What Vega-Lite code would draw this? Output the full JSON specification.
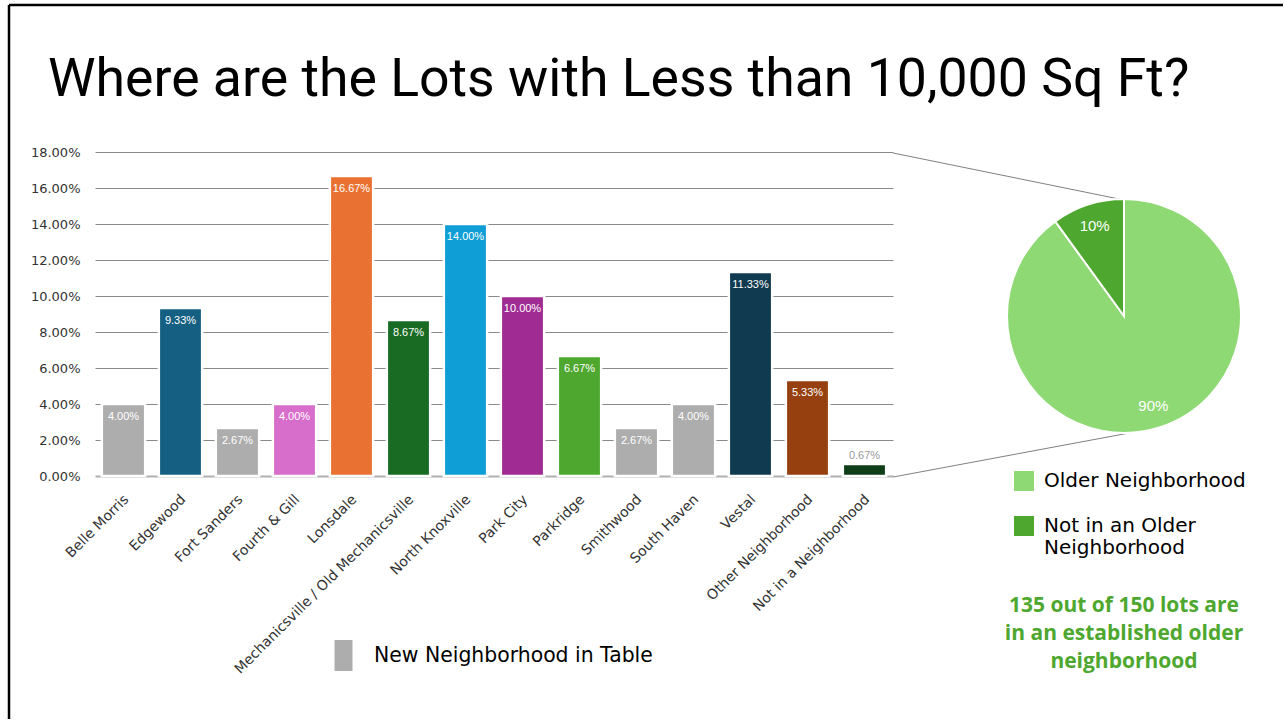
{
  "$schema": "https://vega.github.io/schema/vega-lite/v6.json",
  "background": "white",
  "padding": {"left": 9, "top": 5, "right": 0, "bottom": 0},
  "width": 1274,
  "height": 714,
  "title": {
    "text": "Where are the Lots with Less than 10,000 Sq Ft?",
    "anchor": "start",
    "frame": "group",
    "baseline": "alphabetic",
    "font": "Roboto",
    "fontSize": 53.6,
    "fontWeight": "normal",
    "color": "#000000",
    "dx": 39,
    "offset": -145
  },
  "resolve": {"scale": {"x": "independent", "y": "independent", "color": "independent"}, "legend": {"color": "independent"}},
  "layer": [
    {
      "data": {
        "values": [
          {"neighborhood": "Belle Morris", "share": 0.04, "group": "New Neighborhood in Table"},
          {"neighborhood": "Edgewood", "share": 0.0933, "group": "Edgewood"},
          {"neighborhood": "Fort Sanders", "share": 0.0267, "group": "New Neighborhood in Table"},
          {"neighborhood": "Fourth & Gill", "share": 0.04, "group": "Fourth & Gill"},
          {"neighborhood": "Lonsdale", "share": 0.1667, "group": "Lonsdale"},
          {"neighborhood": "Mechanicsville / Old Mechanicsville", "share": 0.0867, "group": "Mechanicsville / Old Mechanicsville"},
          {"neighborhood": "North Knoxville", "share": 0.14, "group": "North Knoxville"},
          {"neighborhood": "Park City", "share": 0.10, "group": "Park City"},
          {"neighborhood": "Parkridge", "share": 0.0667, "group": "Parkridge"},
          {"neighborhood": "Smithwood", "share": 0.0267, "group": "New Neighborhood in Table"},
          {"neighborhood": "South Haven", "share": 0.04, "group": "New Neighborhood in Table"},
          {"neighborhood": "Vestal", "share": 0.1133, "group": "Vestal"},
          {"neighborhood": "Other Neighborhood", "share": 0.0533, "group": "Other Neighborhood"},
          {"neighborhood": "Not in a Neighborhood", "share": 0.0067, "group": "Not in a Neighborhood"}
        ]
      },
      "encoding": {
        "x": {
          "field": "neighborhood",
          "type": "nominal",
          "sort": null,
          "scale": {"range": [86, 884], "paddingInner": 0.24, "paddingOuter": 0.12},
          "axis": {
            "title": null,
            "offset": -243,
            "labelAngle": -45,
            "labelAlign": "right",
            "labelBaseline": "middle",
            "labelFont": "DejaVu Sans",
            "labelFontSize": 14,
            "labelColor": "#333333",
            "labelPadding": 21,
            "labelOffset": 3,
            "labelLimit": 400,
            "ticks": false,
            "domain": false
          }
        },
        "y": {
          "field": "share",
          "type": "quantitative",
          "scale": {"domain": [0, 0.18], "nice": false, "range": [471, 147]},
          "axis": {
            "title": null,
            "offset": -86,
            "format": ".2%",
            "values": [0, 0.02, 0.04, 0.06, 0.08, 0.1, 0.12, 0.14, 0.16, 0.18],
            "grid": true,
            "gridColor": {"condition": {"test": "datum.value === 0", "value": "#b0b0b0"}, "value": "#8a8a8a"},
            "gridWidth": {"condition": {"test": "datum.value === 0", "value": 2}, "value": 1},
            "domain": false,
            "ticks": false,
            "labelPadding": 15,
            "labelFont": "DejaVu Sans",
            "labelFontSize": 13,
            "labelColor": "#333333"
          }
        }
      },
      "layer": [
        {
          "mark": {"type": "bar", "stroke": "white", "strokeWidth": 2.5},
          "encoding": {
            "color": {
              "field": "group",
              "type": "nominal",
              "scale": {
                "domain": ["New Neighborhood in Table", "Edgewood", "Fourth & Gill", "Lonsdale", "Mechanicsville / Old Mechanicsville", "North Knoxville", "Park City", "Parkridge", "Vestal", "Other Neighborhood", "Not in a Neighborhood"],
                "range": ["#adadad", "#156082", "#d86ecc", "#e97132", "#196b24", "#0f9ed5", "#a02b93", "#4ea72e", "#103a50", "#97400f", "#0e3d17"]
              },
              "legend": {
                "values": ["New Neighborhood in Table"],
                "title": null,
                "orient": "none",
                "legendX": 319,
                "legendY": 635,
                "padding": 0,
                "symbolType": "M-0.58,-1H0.58V1H-0.58Z",
                "symbolSize": 961,
                "symbolStrokeWidth": 0,
                "labelFont": "DejaVu Sans",
                "labelFontSize": 20.4,
                "labelColor": "#000000",
                "labelOffset": 15,
                "labelLimit": 400
              }
            }
          }
        },
        {
          "transform": [{"filter": "datum.share >= 0.02"}],
          "mark": {"type": "text", "baseline": "middle", "dy": 13, "color": "white", "font": "Liberation Sans", "fontSize": 11},
          "encoding": {"text": {"field": "share", "type": "quantitative", "format": ".2%"}}
        },
        {
          "transform": [{"filter": "datum.share < 0.02"}],
          "mark": {"type": "text", "baseline": "middle", "dy": -8, "color": "#9a9a9a", "font": "Liberation Sans", "fontSize": 11},
          "encoding": {"text": {"field": "share", "type": "quantitative", "format": ".2%"}}
        }
      ]
    },
    {
      "encoding": {
        "x": {"type": "quantitative", "scale": {"domain": [-1, 1], "range": [999, 1231], "nice": false, "zero": false}, "axis": null},
        "y": {"type": "quantitative", "scale": {"domain": [-1, 1], "range": [427, 195], "nice": false, "zero": false}, "axis": null}
      },
      "layer": [
        {
          "data": {
            "values": [
              {"edge": "upper", "px": -1.99, "py": 1.405},
              {"edge": "upper", "px": 0, "py": 1},
              {"edge": "lower", "px": -1.99, "py": -1.388},
              {"edge": "lower", "px": 0.198, "py": -0.98}
            ]
          },
          "mark": {"type": "line", "color": "#808080", "strokeWidth": 1, "clip": false},
          "encoding": {
            "x": {"field": "px", "type": "quantitative"},
            "y": {"field": "py", "type": "quantitative"},
            "detail": {"field": "edge", "type": "nominal"}
          }
        },
        {
          "data": {
            "values": [
              {"status": "Older Neighborhood", "share": 0.9},
              {"status": "Not in an Older Neighborhood", "share": 0.1}
            ]
          },
          "encoding": {
            "x": {"datum": 0, "type": "quantitative"},
            "y": {"datum": 0, "type": "quantitative"},
            "theta": {"field": "share", "type": "quantitative", "stack": true},
            "order": {"field": "share", "sort": "descending"}
          },
          "layer": [
            {
              "mark": {"type": "arc", "outerRadius": 117, "stroke": "white", "strokeWidth": 2},
              "encoding": {
                "color": {
                  "field": "status",
                  "type": "nominal",
                  "scale": {"domain": ["Older Neighborhood", "Not in an Older Neighborhood"], "range": ["#8ed973", "#4ea72e"]},
                  "legend": {
                    "title": null,
                    "orient": "none",
                    "legendX": 1005,
                    "legendY": 466,
                    "padding": 0,
                    "symbolType": "square",
                    "symbolSize": 400,
                    "symbolStrokeWidth": 0,
                    "labelFont": "DejaVu Sans",
                    "labelFontSize": 20,
                    "labelColor": "#000000",
                    "labelOffset": 10,
                    "labelLimit": 400,
                    "labelBaseline": "middle",
                    "rowPadding": 25,
                    "labelExpr": "datum.label == 'Not in an Older Neighborhood' ? ['Not in an Older', 'Neighborhood'] : datum.label"
                  }
                }
              }
            },
            {
              "mark": {"type": "text", "radius": 95, "color": "white", "font": "Liberation Sans", "fontSize": 15},
              "encoding": {"text": {"field": "share", "type": "quantitative", "format": ".0%"}}
            }
          ]
        },
        {
          "data": {"values": [{"note": "135 out of 150 lots are\nin an established older\nneighborhood"}]},
          "mark": {"type": "text", "align": "center", "baseline": "middle", "lineBreak": "\n", "lineHeight": 28, "font": "Open Sans", "fontSize": 21, "fontWeight": "bold", "color": "#4ea72e"},
          "encoding": {
            "x": {"datum": 0, "type": "quantitative"},
            "y": {"datum": -2.5, "type": "quantitative"},
            "text": {"field": "note", "type": "nominal"}
          }
        }
      ]
    }
  ],
  "config": {"view": {"stroke": "#000000", "strokeWidth": 2.5, "strokeDash": [1274, 1988, 714, 0]}}
}
